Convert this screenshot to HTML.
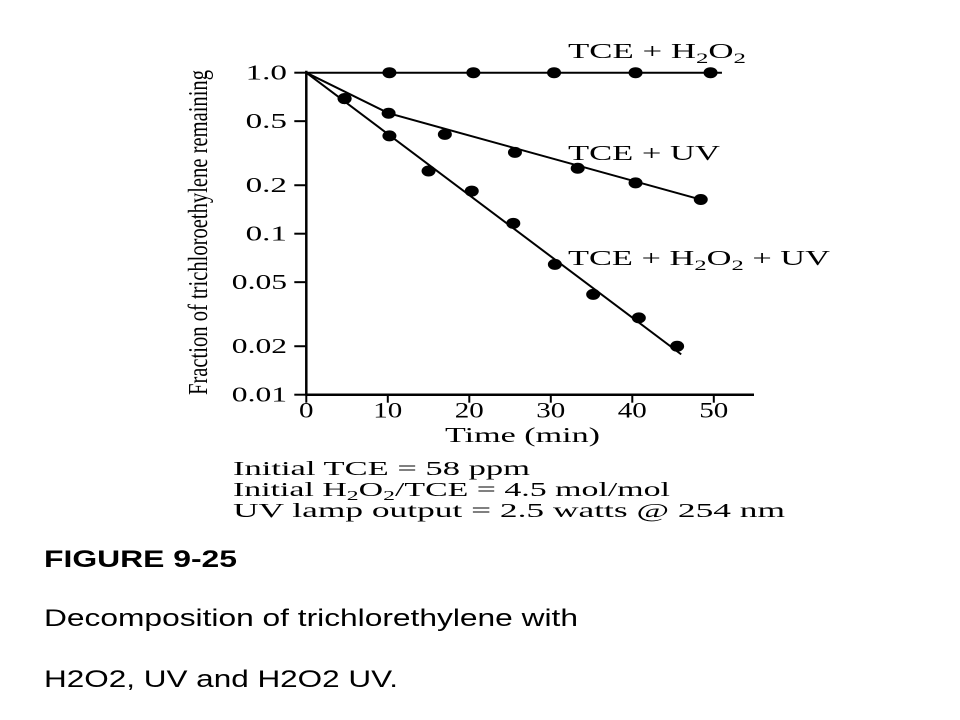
<!DOCTYPE html>
<html><head><meta charset="utf-8"><style>
body{margin:0;background:#fff;width:960px;height:720px;overflow:hidden}
svg{position:absolute;left:0;top:0}
.s{font-family:"Liberation Serif",serif;fill:#000}
.a{font-family:"Liberation Sans",sans-serif;fill:#000}
</style></head><body>
<svg width="960" height="720">
<g id="axes"></g><g id="marks"></g>
<text class="s" x="0" y="0" style="font-size:27px" textLength="325" lengthAdjust="spacingAndGlyphs" transform="translate(207,395) rotate(-90)">Fraction of trichloroethylene remaining</text>
<text class="s" x="445" y="442" style="font-size:21px" textLength="155" lengthAdjust="spacingAndGlyphs">Time (min)</text>
<text class="s" x="568" y="58" style="font-size:21px" textLength="178" lengthAdjust="spacingAndGlyphs">TCE + H<tspan style="font-size:15px" dy="5">2</tspan><tspan dy="-5">O</tspan><tspan style="font-size:15px" dy="5">2</tspan></text>
<text class="s" x="568" y="160" style="font-size:21px" textLength="152" lengthAdjust="spacingAndGlyphs">TCE + UV</text>
<text class="s" x="568" y="265" style="font-size:21px" textLength="262" lengthAdjust="spacingAndGlyphs">TCE + H<tspan style="font-size:15px" dy="5">2</tspan><tspan dy="-5">O</tspan><tspan style="font-size:15px" dy="5">2</tspan><tspan dy="-5"> + UV</tspan></text>
<text class="s" x="233" y="475" style="font-size:20px" textLength="297" lengthAdjust="spacingAndGlyphs">Initial TCE = 58 ppm</text>
<text class="s" x="233" y="496" style="font-size:20px" textLength="437" lengthAdjust="spacingAndGlyphs">Initial H<tspan style="font-size:14px" dy="4">2</tspan><tspan dy="-4">O</tspan><tspan style="font-size:14px" dy="4">2</tspan><tspan dy="-4">/TCE = 4.5 mol/mol</tspan></text>
<text class="s" x="233" y="517" style="font-size:20px" textLength="552" lengthAdjust="spacingAndGlyphs">UV lamp output = 2.5 watts @ 254 nm</text>
<text class="a" x="44" y="567" style="font-size:24px;font-weight:bold" textLength="193" lengthAdjust="spacingAndGlyphs">FIGURE 9-25</text>
<text class="a" x="44" y="626" style="font-size:24px" textLength="534" lengthAdjust="spacingAndGlyphs">Decomposition of trichlorethylene with</text>
<text class="a" x="44" y="687" style="font-size:24px" textLength="354" lengthAdjust="spacingAndGlyphs">H2O2, UV and H2O2 UV.</text>
</svg>
<script>
const yTicks=[1.0,0.5,0.2,0.1,0.05,0.02,0.01];
const yTickLabels=["1.0","0.5","0.2","0.1","0.05","0.02","0.01"];
const xTicks=[0,10,20,30,40,50];
const h2o2T=[10.2,20.5,30.4,40.4,49.6];
const h2o2V=[1,1,1,1,1];
const uvT=[4.7,10.1,17.0,25.6,33.3,40.4,48.4];
const uvV=[0.69,0.56,0.414,0.32,0.255,0.207,0.163];
const bothT=[4.7,10.2,15.0,20.3,25.4,30.5,35.2,40.8,45.5];
const bothV=[0.69,0.405,0.245,0.184,0.116,0.0645,0.042,0.030,0.020];
const h2o2Line=[[0,1],[51,1]];
const uvLine=[[0,1],[10.1,0.56],[48.4,0.163]];
const bothLine=[[0,1],[46,0.0178]];
const X=t=>306.3+t*8.15;
const Y=v=>72.7-Math.log10(v)*161;
const NS="http://www.w3.org/2000/svg";
const axes=document.getElementById('axes'),marks=document.getElementById('marks');
function mk(tag,at,p){const e=document.createElementNS(NS,tag);for(const k in at)e.setAttribute(k,at[k]);p.appendChild(e);return e;}
let e=mk('line',{x1:X(0),y1:Y(1)-2,x2:X(0),y2:Y(0.01),stroke:'#000','stroke-width':2.5},axes);


e=mk('line',{x1:X(0)-1,y1:Y(0.01),x2:754,y2:Y(0.01),stroke:'#000','stroke-width':2.5},axes);


yTicks.forEach((v,i)=>{
 let t=mk('line',{x1:X(0)-12,y1:Y(v),x2:X(0),y2:Y(v),stroke:'#000','stroke-width':2},axes);
 
 
 const s=yTickLabels[i];
 let l=mk('text',{x:287-s.length*13.8,y:Y(v)+7,style:'font-size:21px',textLength:s.length*13.8,lengthAdjust:'spacingAndGlyphs',class:'s'},axes);l.textContent=s;
 
 
});
xTicks.forEach(v=>{
 let t=mk('line',{x1:X(v),y1:Y(0.01),x2:X(v),y2:Y(0.01)+8,stroke:'#000','stroke-width':2},axes);
 
 
 const s=String(v),w=s.length*14.5;
 let l=mk('text',{x:X(v)-w/2,y:Y(0.01)+23,style:'font-size:22px',textLength:w,lengthAdjust:'spacingAndGlyphs',class:'s'},axes);l.textContent=s;
 
 
});
function line(pts,name){let p=mk('polyline',{points:pts.map(q=>X(q[0])+','+Y(q[1])).join(' '),fill:'none',stroke:'#000','stroke-width':2},marks);
 
 }
function dots(T,V,name){T.forEach((t,i)=>{let c=mk('ellipse',{cx:X(t),cy:Y(V[i]),rx:7,ry:5.5,fill:'#000'},marks);
 
 });}
line(h2o2Line,'line-h2o2');line(uvLine,'line-uv');line(bothLine,'line-h2o2-uv');
dots(h2o2T,h2o2V,'point-h2o2');dots(uvT,uvV,'point-uv');dots(bothT,bothV,'point-h2o2-uv');
</script>
</body></html>
